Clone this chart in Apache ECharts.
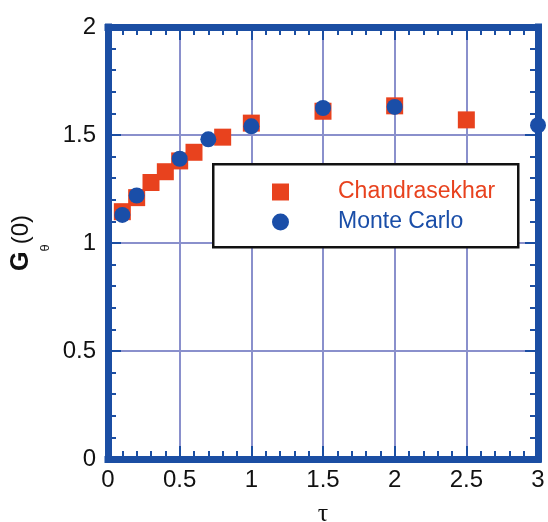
<!DOCTYPE html>
<html>
<head>
<meta charset="utf-8">
<script src="https://cdn.jsdelivr.net/npm/echarts@6/dist/echarts.min.js"></script>
<style>
html,body{margin:0;padding:0;background:#fff;}
#chart{width:548px;height:522px;}
</style>
</head>
<body>
<div id="chart"></div>
<script>
// Data
const chandraX = [0.1, 0.2, 0.3, 0.4, 0.5, 0.6, 0.8, 1.0, 1.5, 2.0, 2.5];
const chandraY = [1.145, 1.21, 1.28, 1.33, 1.38, 1.42, 1.49, 1.555, 1.61, 1.635, 1.57];
const monteX = [0.1, 0.2, 0.5, 0.7, 1.0, 1.5, 2.0, 3.0];
const monteY = [1.13, 1.22, 1.39, 1.48, 1.54, 1.625, 1.63, 1.545];
const seriesNames = ['Chandrasekhar', 'Monte Carlo'];
const xTicks = [0, 0.5, 1, 1.5, 2, 2.5, 3];
const yTicks = [0, 0.5, 1, 1.5, 2];

const BORDER = '#1b4ea3';
const GRID = '#8a90cc';
const RED = '#e8421e';
const BLUE = '#1a4ea8';
const FONT = '"Liberation Sans", Arial, Helvetica, sans-serif';

function fmt(v) { return String(v); }

const axisLine = {show: true, onZero: false, lineStyle: {color: BORDER, width: 7, cap: 'square'}};
const tick = {show: true, inside: true, length: 13, lineStyle: {color: BORDER, width: 2}};
const minor = {show: true, splitNumber: 5, length: 8, lineStyle: {color: BORDER, width: 2}};

const chart = echarts.init(document.getElementById('chart'));
chart.setOption({
  animation: false,
  backgroundColor: '#fff',
  grid: {left: 108, right: 10, top: 27, bottom: 63, containLabel: false, outerBoundsMode: 'none'},
  xAxis: [
    {
      type: 'value', position: 'bottom', min: xTicks[0], max: xTicks[xTicks.length - 1], interval: 0.5,
      axisLine: axisLine, axisTick: tick, minorTick: minor,
      splitLine: {show: true, lineStyle: {color: GRID, width: 2}},
      axisLabel: {show: true, margin: 9, fontSize: 24, color: '#111', fontFamily: FONT, formatter: fmt,
                  showMinLabel: true, showMaxLabel: true},
      name: 'τ', nameLocation: 'middle', nameGap: 42,
      nameTextStyle: {fontFamily: '"Liberation Serif", "DejaVu Serif", serif', fontSize: 26, color: '#111'}
    },
    {
      type: 'value', position: 'top', min: xTicks[0], max: xTicks[xTicks.length - 1], interval: 0.5,
      axisLine: axisLine, axisTick: tick, minorTick: minor,
      splitLine: {show: false}, axisLabel: {show: false}
    }
  ],
  yAxis: [
    {
      type: 'value', position: 'left', min: yTicks[0], max: yTicks[yTicks.length - 1], interval: 0.5,
      axisLine: axisLine, axisTick: tick, minorTick: minor,
      splitLine: {show: true, lineStyle: {color: GRID, width: 2}},
      axisLabel: {show: true, margin: 12, fontSize: 24, color: '#111', fontFamily: FONT, formatter: fmt,
                  padding: [0, 0, 8, 0]},
      name: '{g|G}{s|θ}{n|(0)}', nameLocation: 'middle', nameGap: 69, nameRotate: 90,
      nameTextStyle: {
        color: '#111', fontFamily: FONT,
        rich: {
          g: {fontSize: 25, fontWeight: 'bold', fontFamily: FONT, color: '#111', verticalAlign: 'bottom'},
          s: {fontSize: 13, fontFamily: FONT, color: '#111', verticalAlign: 'bottom', padding: [0, 0, -18, 0]},
          n: {fontSize: 24, fontFamily: FONT, color: '#111', verticalAlign: 'bottom'}
        }
      }
    },
    {
      type: 'value', position: 'right', min: yTicks[0], max: yTicks[yTicks.length - 1], interval: 0.5,
      axisLine: axisLine, axisTick: tick, minorTick: minor,
      splitLine: {show: false}, axisLabel: {show: false}
    }
  ],
  legend: {
    show: true, orient: 'vertical', left: 272, top: 180,
    itemWidth: 17, itemHeight: 17, itemGap: 6, padding: 0, z: 10,
    data: [
      {name: seriesNames[0], icon: 'rect', itemStyle: {color: RED}, textStyle: {color: RED}},
      {name: seriesNames[1], icon: 'circle', itemStyle: {color: BLUE}, textStyle: {color: BLUE}}
    ],
    textStyle: {fontSize: 23, fontFamily: FONT, lineHeight: 24, padding: [0, 0, 0, 44]}
  },
  graphic: [
    {type: 'rect', left: 212, top: 163, z: 8,
     shape: {width: 305, height: 83},
     style: {fill: '#fff', stroke: '#111', lineWidth: 2.5}}
  ],
  series: [
    {
      name: seriesNames[0], type: 'scatter', symbol: 'rect', symbolSize: 17, clip: false, z: 3,
      itemStyle: {color: RED, opacity: 1},
      data: chandraX.map((x, i) => [x, chandraY[i]])
    },
    {
      name: seriesNames[1], type: 'scatter', symbol: 'circle', symbolSize: 16, clip: false, z: 4,
      itemStyle: {color: BLUE, opacity: 1},
      data: monteX.map((x, i) => [x, monteY[i]])
    }
  ]
});
</script>
</body>
</html>
